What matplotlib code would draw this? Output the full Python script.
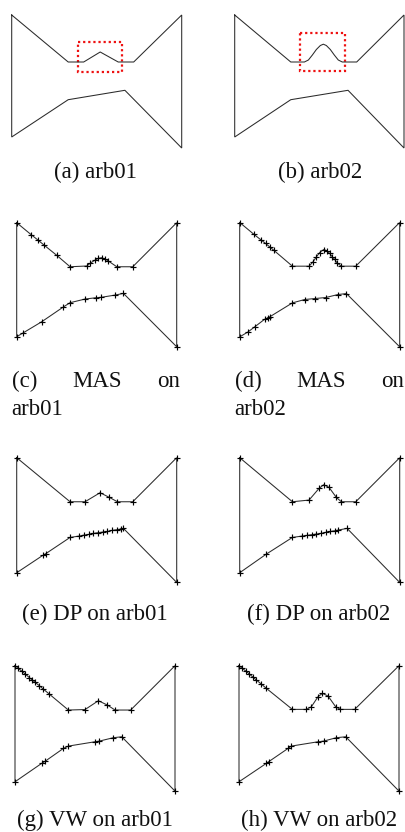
import matplotlib
matplotlib.use("Agg")
import matplotlib.pyplot as plt
from matplotlib.patches import Rectangle

W, H = 406, 832

# ---------------- data (shape units: x 0..170, y 0..133 downward) ----------------
arb01_upper = [(0, 0), (56.5, 47), (72, 47), (88.5, 37), (106.5, 47), (122, 47), (170, 0)]
arb01_lower = [(0, 122), (56.5, 84.7), (113.2, 75.3), (170, 133)]

arb02_upper = [(0, 0), (56.3, 47), (70, 47), (74, 45), (78, 40), (82, 34.5), (86, 30.5),
               (89, 29.2), (92, 30.5), (96, 34.5), (100, 40), (104, 45), (108, 47),
               (122.5, 47), (170, 0)]
arb02_lower = [(0, 122), (56.3, 84.7), (113.8, 75.3), (170, 133)]

box01 = (66.3, 26.7, 110.3, 57.3)
box02 = (65.6, 18.3, 111.0, 56.0)

mas01_upper = [(0, 0), (15.2, 12.6), (22.3, 18.2), (28.7, 23.5), (42.5, 34.6), (56.7, 46.8),
               (74.4, 46.0), (77.9, 43.2), (83.2, 39.7), (86.8, 37.9), (90.3, 37.2),
               (93.9, 38.6), (97.4, 40.7), (106.3, 46.8), (123.3, 46.8), (170, 0)]
mas01_lower = [(0, 121.1), (7.1, 116.9), (26.6, 105.2), (49.6, 89.5), (56.7, 85.0),
               (72.6, 81.1), (84.3, 79.7), (89.6, 79.3), (104.5, 76.9), (113.4, 75.1), (170, 131.8)]

mas02_upper = [(0, 0), (14.9, 12.4), (23.0, 18.8), (27.6, 22.3), (31.9, 25.9), (36.1, 29.4),
               (56.0, 46.4), (73.7, 46.4), (77.9, 41.8), (81.5, 36.5), (85.0, 31.9),
               (89.3, 28.7), (92.8, 30.1), (95.6, 32.9), (98.5, 36.5), (101.0, 39.3),
               (103.4, 42.9), (108.0, 46.4), (123.3, 46.4), (170, 0)]
mas02_lower = [(0, 121.5), (8.9, 116.2), (15.9, 110.9), (26.6, 102.7), (30.1, 101.3),
               (31.9, 100.2), (56.0, 85.4), (69.1, 81.8), (79.7, 80.8), (91.4, 79.7),
               (104.5, 76.5), (113.4, 75.5), (170, 132.1)]

dp01_upper = [(0, 0), (56.7, 46.8), (72.6, 46.8), (88.6, 37.2), (98.5, 42.2), (107.0, 46.8),
              (123.3, 46.8), (170, 0)]
dp01_lower = [(0, 122.2), (28.3, 103.4), (30.8, 102.0), (56.7, 84.7), (66.6, 83.2), (71.6, 82.2),
              (76.5, 81.5), (81.5, 80.4), (86.4, 79.7), (91.4, 79.0), (96.4, 78.3),
              (101.3, 77.2), (106.3, 76.5), (110.5, 75.8), (113.4, 75.1), (170, 132.5)]

dp02_upper = [(0, 0), (56.0, 46.8), (73.7, 45.0), (84.3, 32.6), (89.3, 28.7), (94.9, 31.5),
              (102.7, 42.2), (108.0, 46.8), (123.3, 46.8), (170, 0)]
dp02_lower = [(0, 122.2), (28.3, 102.4), (56.0, 84.7), (66.6, 83.2), (71.6, 82.5), (76.5, 81.8),
              (81.5, 81.1), (86.4, 80.4), (91.4, 79.3), (96.4, 78.3), (101.3, 77.6),
              (104.5, 76.9), (114.1, 75.1), (170, 132.5)]

vw01_upper = [(0, 0), (3.5, 2.8), (7.1, 5.7), (10.6, 8.6), (15.2, 12.6), (17.7, 14.7),
              (21.3, 17.6), (25.9, 21.3), (29.4, 24.3), (36.5, 30.2), (56.7, 47.1),
              (74.4, 46.6), (88.6, 37.2), (98.1, 41.8), (106.3, 47.1), (122.9, 47.1), (170, 0)]
vw01_lower = [(0, 123.3), (28.3, 103.8), (31.9, 101.6), (51.4, 87.9), (56.7, 85.4),
              (85.0, 80.8), (89.6, 80.1), (104.5, 76.5), (113.4, 75.5), (170, 133.2)]

vw02_upper = [(0, 0), (3.5, 2.8), (7.1, 5.6), (10.6, 8.5), (14.9, 12.2), (18.4, 15.2),
              (23.7, 19.5), (29.0, 24.0), (56.7, 46.4), (71.6, 46.4), (76.9, 43.6),
              (84.0, 32.9), (88.6, 29.4), (94.6, 32.2), (102.7, 43.6), (107.7, 46.4),
              (122.9, 46.4), (170, 0)]
vw02_lower = [(0, 123.3), (29.0, 103.8), (31.5, 102.0), (52.1, 87.9), (55.6, 85.4),
              (84.0, 80.8), (90.0, 80.1), (103.4, 76.5), (113.4, 75.5), (170, 133.2)]

# ---------------- figure ----------------
plt.rcParams['font.family'] = ['Liberation Serif', 'DejaVu Serif']
fig = plt.figure(figsize=(W / 100, H / 100), dpi=100)
fig.patch.set_facecolor('white')


def add_panel(x0, y0, x1, y1):
    ax = fig.add_axes([x0 / W, 1 - y1 / H, (x1 - x0) / W, (y1 - y0) / H])
    ax.set_xlim(0, 170)
    ax.set_ylim(133, 0)
    ax.axis('off')
    return ax


def draw_shape(ax, upper, lower, markers):
    pts = list(upper) + list(reversed(lower)) + [upper[0]]
    xs = [p[0] for p in pts]
    ys = [p[1] for p in pts]
    ax.plot(xs, ys, color='#2a2a2a', lw=0.75, clip_on=False, solid_joinstyle='miter')
    if markers:
        ax.plot(xs[:-1], ys[:-1], ls='none', marker='+', ms=5, mew=0.85,
                color='black', clip_on=False)


def draw_box(ax, box):
    x0, y0, x1, y1 = box
    ax.add_patch(Rectangle((x0, y0), x1 - x0, y1 - y0, fill=False, ec='#ee1111',
                           lw=1.6, ls=(0, (1, 1.3)), clip_on=False))


def caption(x, y, s, ha='center'):
    fig.text(x / W, 1 - y / H, s, ha=ha, va='baseline', fontsize=16.5, color='#111111')


# row 1
ax = add_panel(11.7, 15, 181.7, 148)
draw_shape(ax, arb01_upper, arb01_lower, False)
draw_box(ax, box01)
ax = add_panel(234.7, 15, 404.0, 148)
draw_shape(ax, arb02_upper, arb02_lower, False)
draw_box(ax, box02)
caption(95, 178, "(a) arb01")
caption(320, 178, "(b) arb02")

# row 2
ax = add_panel(16.7, 222.7, 176.7, 347.9)
draw_shape(ax, mas01_upper, mas01_lower, True)
ax = add_panel(239.7, 222.5, 399.7, 347.7)
draw_shape(ax, mas02_upper, mas02_lower, True)
caption(11.7, 386.7, "(c)", ha='left')
caption(97.2, 386.7, "MAS")
caption(180.5, 386.7, "on", ha='right')
caption(11.7, 415, "arb01", ha='left')
caption(234.7, 386.7, "(d)", ha='left')
caption(321.3, 386.7, "MAS")
caption(404, 386.7, "on", ha='right')
caption(234.7, 415, "arb02", ha='left')

# row 3
ax = add_panel(16.7, 457.7, 176.7, 582.9)
draw_shape(ax, dp01_upper, dp01_lower, True)
ax = add_panel(239.7, 457.7, 399.7, 582.9)
draw_shape(ax, dp02_upper, dp02_lower, True)
caption(95, 620.5, "(e) DP on arb01")
caption(319, 620.5, "(f) DP on arb02")

# row 4
ax = add_panel(15, 665.7, 175, 790.9)
draw_shape(ax, vw01_upper, vw01_lower, True)
ax = add_panel(239, 665.7, 399, 790.9)
draw_shape(ax, vw02_upper, vw02_lower, True)
caption(95, 826, "(g) VW on arb01")
caption(319, 826, "(h) VW on arb02")

fig.savefig("out.png", dpi=100, facecolor='white')
